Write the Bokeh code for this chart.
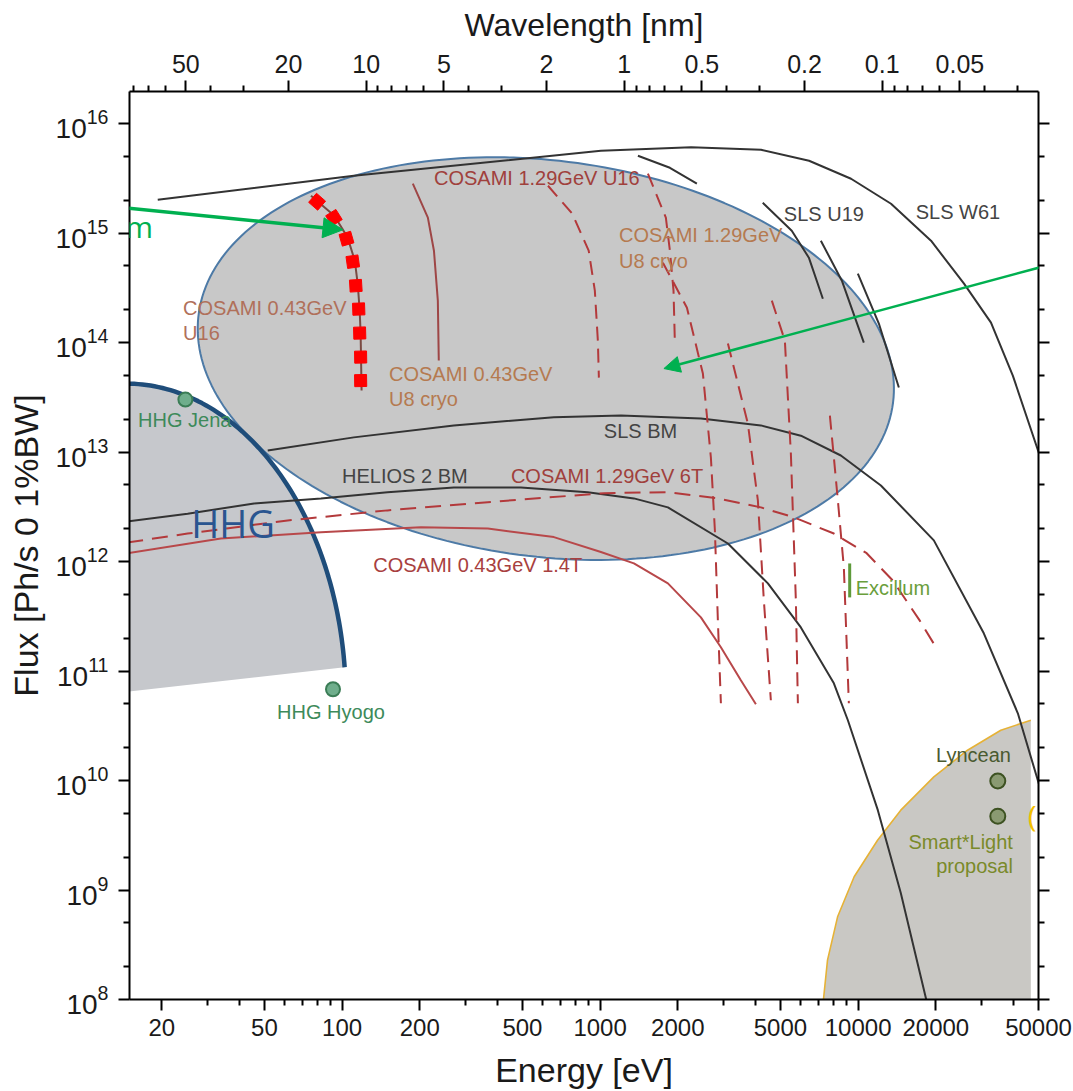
import numpy as np
from bokeh.plotting import figure
from bokeh.models import LogAxis, FixedTicker, Label, Arrow, NormalHead
from bokeh.embed import file_html
from bokeh.resources import INLINE

# ---------------- axis ticks ----------------
HC = 1239.84  # eV*nm, photon energy <-> wavelength

energy_ticks = [20, 50, 100, 200, 500, 1000, 2000, 5000, 10000, 20000, 50000]
energy_tick_labels = ["20", "50", "100", "200", "500", "1000", "2000", "5000",
                      "10000", "20000", "50000"]
energy_minor = [30, 40, 60, 70, 80, 90, 300, 400, 600, 700, 800, 900,
                3000, 4000, 6000, 7000, 8000, 9000, 30000, 40000]

wavelength_ticks = [50, 20, 10, 5, 2, 1, 0.5, 0.2, 0.1, 0.05]
wavelength_tick_labels = ["50", "20", "10", "5", "2", "1", "0.5", "0.2", "0.1", "0.05"]
wavelength_minor = [80, 70, 60, 40, 30, 9, 8, 7, 6, 4, 3, 0.9, 0.8, 0.7, 0.6,
                    0.4, 0.3, 0.09, 0.08, 0.07, 0.06, 0.04, 0.03]

flux_ticks = [10.0 ** k for k in range(8, 17)]
flux_minor = [m * 10.0 ** k for k in range(8, 17) for m in (2, 5)]

# ---------------- sources (energy eV, flux ph/s/0.1%BW) ----------------
sls_w61_e = [19.3, 111, 1007, 2252, 4205, 6453, 9387, 13410, 19160, 25720, 32720, 39760, 51300]
sls_w61_f = [2.01e15, 3.33e15, 5.64e15, 6.06e15, 5.75e15, 4.57e15, 3.13e15, 1.85e15,
             8.5e14, 3.45e14, 1.52e14, 4.99e13, 8.36e12]

sls_u19_e = [[1401, 1864, 2371], [4268, 5530, 6442, 7299], [7170, 8648, 10520],
             [9973, 12030, 14380]]
sls_u19_f = [[5.07e15, 3.94e15, 2.82e15], [1.89e15, 1.05e15, 5.95e14, 2.51e14],
             [8.5e14, 3.67e14, 9.98e13], [4.25e14, 1.49e14, 3.88e13]]

sls_bm_e = [51.5, 111, 271, 662, 1204, 2458, 4198, 5998, 8570, 12250, 19650, 30690, 41580, 51040]
sls_bm_f = [1.03e13, 1.36e13, 1.75e13, 2.08e13, 2.15e13, 2.02e13, 1.75e13, 1.41e13,
            9.29e12, 4.95e12, 1.56e12, 2.21e11, 4.11e10, 8.14e9]

helios_bm_e = [14.7, 25.2, 45.6, 82.8, 150, 271, 493, 895, 1352, 1831, 3128, 4469, 5998,
               8052, 9124, 11920, 14630, 18300, 18790]
helios_bm_f = [2.32e12, 2.73e12, 3.39e12, 3.77e12, 4.30e12, 4.75e12, 4.75e12, 4.30e12,
               3.77e12, 3.12e12, 1.46e12, 6.31e11, 2.50e11, 7.72e10, 3.55e10, 5.36e9,
               9.37e8, 1.03e8, 8.0e7]

cosami129_6t_e = [14.7, 25.2, 61.5, 150, 367, 1034, 1831, 2860, 4198, 5636, 8052, 10790,
                  13610, 17310, 20340]
cosami129_6t_f = [1.49e12, 1.80e12, 2.37e12, 2.93e12, 3.48e12, 4.21e12, 4.30e12, 3.77e12,
                  3.12e12, 2.53e12, 1.80e12, 1.19e12, 6.72e11, 2.90e11, 1.55e11]

cosami043_14t_e = [14.7, 33.9, 82.8, 202, 367, 662, 1007, 1352, 1831, 2458, 2938, 3511, 4016]
cosami043_14t_f = [1.19e12, 1.62e12, 1.85e12, 2.05e12, 2.00e12, 1.67e12, 1.22e12, 9.61e11,
                   6.31e11, 3.09e11, 1.65e11, 8.22e10, 4.97e10]

# COSAMI 1.29 GeV undulator harmonics (U16 and U8 cryo)
cosami129_und_e = [[628, 780, 903, 954, 980, 989],
                   [1532, 1798, 1864, 1925, 1949],
                   [1751, 2170, 2502, 2687, 2785, 2860, 2938],
                   [3128, 3737, 4087, 4311, 4589],
                   [4629, 5200, 5486, 5736, 5840],
                   [7771, 8052, 8345, 8803, 9204]]
cosami129_und_f = [[2.70e15, 1.50e15, 6.89e14, 2.98e14, 1.04e14, 4.78e13],
                   [3.48e15, 1.38e15, 6.89e14, 2.98e14, 9.77e13],
                   [5.36e14, 2.08e14, 5.20e13, 8.91e12, 1.92e12, 2.90e11, 5.07e10],
                   [9.77e13, 1.82e13, 3.61e12, 4.42e11, 5.40e10],
                   [2.41e14, 1.04e14, 9.69e12, 4.42e11, 5.07e10],
                   [2.15e13, 8.91e12, 3.61e12, 8.84e11, 5.07e10]]

cosami043_u8_e = [188, 215, 227, 235, 237]
cosami043_u8_f = [2.82e15, 1.38e15, 6.89e14, 2.41e14, 6.84e13]

cosami043_u16_e = [75.8, 93.3, 105, 112, 115, 117, 118, 118.4, 119]
cosami043_u16_f = [2.19e15, 1.44e15, 9.12e14, 5.59e14, 3.42e14, 1.95e14, 1.20e14, 7.33e13, 3.64e13]

# highlighted harmonic peaks on the 0.43 GeV U16 tuning curve
u16_peak_e = [80.0, 93.0, 104, 110, 113, 116, 117, 118, 118]
u16_peak_f = [1.93e15, 1.38e15, 8.87e14, 5.47e14, 3.30e14, 2.02e14, 1.22e14, 7.36e13, 4.49e13]
u16_peak_angle_deg = [49, 32, 16, 8, 3.5, 2, 1.5, 1, 1]

excillum_e = [9273, 9273]
excillum_f = [9.6e11, 4.7e11]

hhg_points_e = [24.7, 92.2]
hhg_points_f = [3.01e13, 6.81e10]
compton_points_e = [34770, 34770]
compton_points_f = [9.9e9, 4.72e9]

# Compton-source region (lower right)
compton_arc_e = [7300, 7608, 8323, 9650, 11890, 14630, 19650, 26540, 35720, 46690]
compton_arc_f = [8.9e7, 2.29e8, 5.69e8, 1.32e9, 2.85e9, 5.36e9, 1.08e10, 1.89e10, 2.88e10, 3.55e10]

# ---------------- figure ----------------
W, H = 1073, 1091
BL, BR, BT, BB = 129, 35, 91, 92
X_MIN, X_MAX = 15, 50000
Y_MIN, Y_MAX = 1e8, 1.96e16

p = figure(width=W, height=H, x_axis_type="log", y_axis_type="log",
           x_range=(X_MIN, X_MAX), y_range=(Y_MIN, Y_MAX),
           output_backend="svg", toolbar_location=None,
           min_border_left=BL, min_border_right=BR, min_border_top=BT, min_border_bottom=BB)
p.xgrid.visible = False
p.ygrid.visible = False
p.outline_line_color = None
p.background_fill_color = "white"
p.border_fill_color = "white"

FONT = "Liberation Sans"

# screen pixels per decade, used for shapes defined in screen proportions
frame_w = W - BL - BR
frame_h = H - BT - BB
ppd_x = frame_w / np.log10(X_MAX / X_MIN)
ppd_y = frame_h / np.log10(Y_MAX / Y_MIN)

# HHG region: quarter ellipse in log-log space
hhg_c_e, hhg_c_f = 14.54, 5.40e10
hhg_a_dec, hhg_b_dec = 0.852, 2.892
phi = np.radians(np.linspace(90, 6, 80))
hhg_arc_e = 10 ** (np.log10(hhg_c_e) + hhg_a_dec * np.cos(phi))
hhg_arc_f = 10 ** (np.log10(hhg_c_f) + hhg_b_dec * np.sin(phi))
p.patch(list(hhg_arc_e) + [14.3], list(hhg_arc_f) + [6.43e10],
        fill_color="#c6c8cc", line_color=None)

# Compton region
p.patch(compton_arc_e + [46690, 7300], compton_arc_f + [8.0e7, 8.0e7],
        fill_color="#c9c8c4", line_color=None)
p.line(compton_arc_e, compton_arc_f, line_color="#e6b236", line_width=1.6)

# big tilted ellipse (COSAMI coverage)
ell_c_e, ell_c_f = 616, 7.13e13
ell_a, ell_b, ell_tilt = 350, 198, np.radians(7.25)
t = np.linspace(0, 2 * np.pi, 240)
dx = ell_a * np.cos(t) * np.cos(ell_tilt) - ell_b * np.sin(t) * np.sin(ell_tilt)
dy = ell_a * np.cos(t) * np.sin(ell_tilt) + ell_b * np.sin(t) * np.cos(ell_tilt)
ell_e = 10 ** (np.log10(ell_c_e) + dx / ppd_x)
ell_f = 10 ** (np.log10(ell_c_f) - dy / ppd_y)
p.patch(ell_e, ell_f, fill_color="#c8c8c8", line_color="#4d7aa6", line_width=2)

# HHG boundary
p.line(hhg_arc_e, hhg_arc_f, line_color="#1f4d7a", line_width=4.5)

# storage-ring sources
DARK = "#333333"
p.line(sls_w61_e, sls_w61_f, line_color=DARK, line_width=2)
p.multi_line(sls_u19_e, sls_u19_f, line_color=DARK, line_width=2)
p.line(sls_bm_e, sls_bm_f, line_color=DARK, line_width=2)
p.line(helios_bm_e, helios_bm_f, line_color=DARK, line_width=2)

RED = "#b3393b"
p.line(cosami129_6t_e, cosami129_6t_f, line_color=RED, line_width=2, line_dash="16 9")
p.line(cosami043_14t_e, cosami043_14t_f, line_color="#b8484a", line_width=2)
p.multi_line(cosami129_und_e, cosami129_und_f, line_color=RED, line_width=2, line_dash="14 8")
p.line(cosami043_u8_e, cosami043_u8_f, line_color="#9e4646", line_width=2)
p.line(cosami043_u16_e, cosami043_u16_f, line_color="#7a4a42", line_width=2)
p.scatter(u16_peak_e, u16_peak_f, marker="square", size=12,
          angle=list(np.radians(u16_peak_angle_deg)),
          fill_color="#ff0000", line_color="#ff0000")

p.line(excillum_e, excillum_f, line_color="#5e9a3a", line_width=3)

p.scatter(hhg_points_e, hhg_points_f, marker="circle", size=14,
          fill_color="#6fae8c", line_color="#3b7d56", line_width=2)
p.scatter(compton_points_e, compton_points_f, marker="circle", size=15,
          fill_color="#8a9a72", line_color="#3d5222", line_width=2)

# ---------------- text labels ----------------
def add_label(x, y, text, color, size="20px", align="left", font=FONT):
    p.add_layout(Label(x=x, y=y, text=text, text_color=color, text_font=font,
                       text_font_size=size, text_align=align, text_baseline="middle"))

TAN = "#b57a50"
add_label(227, 3.18e15, "COSAMI 1.29GeV U16", "#a0403c")
add_label(1183, 9.65e14, "COSAMI 1.29GeV", TAN)
add_label(1183, 5.59e14, "U8 cryo", TAN)
add_label(24.2, 2.08e14, "COSAMI 0.43GeV", "#b0705a")
add_label(24.2, 1.23e14, "U16", "#b0705a")
add_label(152, 5.20e13, "COSAMI 0.43GeV", TAN)
add_label(152, 3.08e13, "U8 cryo", TAN)
add_label(5153, 1.50e15, "SLS U19", "#444444")
add_label(16720, 1.56e15, "SLS W61", "#444444")
add_label(1034, 1.57e13, "SLS BM", "#444444")
add_label(100, 5.98e12, "HELIOS 2 BM", "#444444")
add_label(451, 5.98e12, "COSAMI 1.29GeV 6T", "#a0403c")
add_label(132, 9.21e11, "COSAMI 0.43GeV 1.4T", "#a84040")
add_label(16.2, 1.94e13, "HHG Jena", "#3d8a5a")
add_label(56.0, 4.20e10, "HHG Hyogo", "#3d8a5a")
add_label(9780, 5.68e11, "Excillum", "#6a9e3c")
add_label(39080, 1.70e10, "Lyncean", "#4a5a30", align="right")
add_label(39790, 2.74e9, "Smart*Light", "#7a8a2a", align="right")
add_label(39790, 1.65e9, "proposal", "#7a8a2a", align="right")
add_label(26.0, 2.26e12, "HHG", "#2a5590", size="38px", font="Open Sans")

# call-outs pointing in from the page around the chart
GREEN = "#00b050"
add_label(18.5, 1.14e15, "m", GREEN, size="30px", align="right", font="Open Sans")
add_label(49200, 4.82e9, "(", "#f5c000", size="30px", align="right", font="Open Sans")
p.add_layout(Arrow(end=NormalHead(size=20, fill_color=GREEN, line_color=GREEN),
                   x_start=5.45, y_start=2.14e15, x_end=100.8, y_end=1.07e15,
                   line_color=GREEN, line_width=3.5))
p.add_layout(Arrow(end=NormalHead(size=16, fill_color=GREEN, line_color=GREEN),
                   x_start=69800, y_start=5.95e14, x_end=1767, y_end=5.78e13,
                   line_color=GREEN, line_width=2.5))

# ---------------- axes ----------------
xb = p.xaxis[0]
xb.ticker = FixedTicker(ticks=energy_ticks, minor_ticks=energy_minor)
xb.major_label_overrides = dict(zip(energy_ticks, energy_tick_labels))
xb.axis_label = "Energy [eV]"
xb.axis_label_standoff = 12

yl = p.yaxis[0]
yl.ticker = FixedTicker(ticks=flux_ticks, minor_ticks=flux_minor)
yl.axis_label = "Flux [Ph/s 0 1%BW]"
yl.axis_label_standoff = 8

wl_e = [HC / w for w in wavelength_ticks]
top = LogAxis(ticker=FixedTicker(ticks=wl_e, minor_ticks=[HC / w for w in wavelength_minor]),
              major_label_overrides=dict(zip(wl_e, wavelength_tick_labels)),
              axis_label="Wavelength [nm]", axis_label_standoff=9)
p.add_layout(top, "above")

right = LogAxis(ticker=FixedTicker(ticks=flux_ticks, minor_ticks=flux_minor),
                major_label_overrides={v: "" for v in flux_ticks})
p.add_layout(right, "right")

for ax in (xb, yl, top, right):
    ax.axis_line_width = 2
    ax.axis_line_color = "black"
    ax.major_tick_line_width = 2
    ax.minor_tick_line_width = 2
    ax.major_tick_out = 11
    ax.major_tick_in = 0
    ax.minor_tick_out = 6
    ax.minor_tick_in = 0
    ax.major_label_standoff = 5
    ax.major_label_text_font = FONT
    ax.major_label_text_color = "#1a1a1a"
    ax.axis_label_text_font = FONT
    ax.axis_label_text_font_style = "normal"
    ax.axis_label_text_color = "#1a1a1a"

top.major_label_standoff = 8
yl.major_label_standoff = 10
xb.major_label_standoff = 8
xb.major_label_text_font_size = "24px"
top.major_label_text_font_size = "25px"
yl.major_label_text_font_size = "28px"
xb.axis_label_text_font_size = "34px"
top.axis_label_text_font_size = "32px"
yl.axis_label_text_font_size = "34px"

open("out.html", "w").write(file_html(p, INLINE))
